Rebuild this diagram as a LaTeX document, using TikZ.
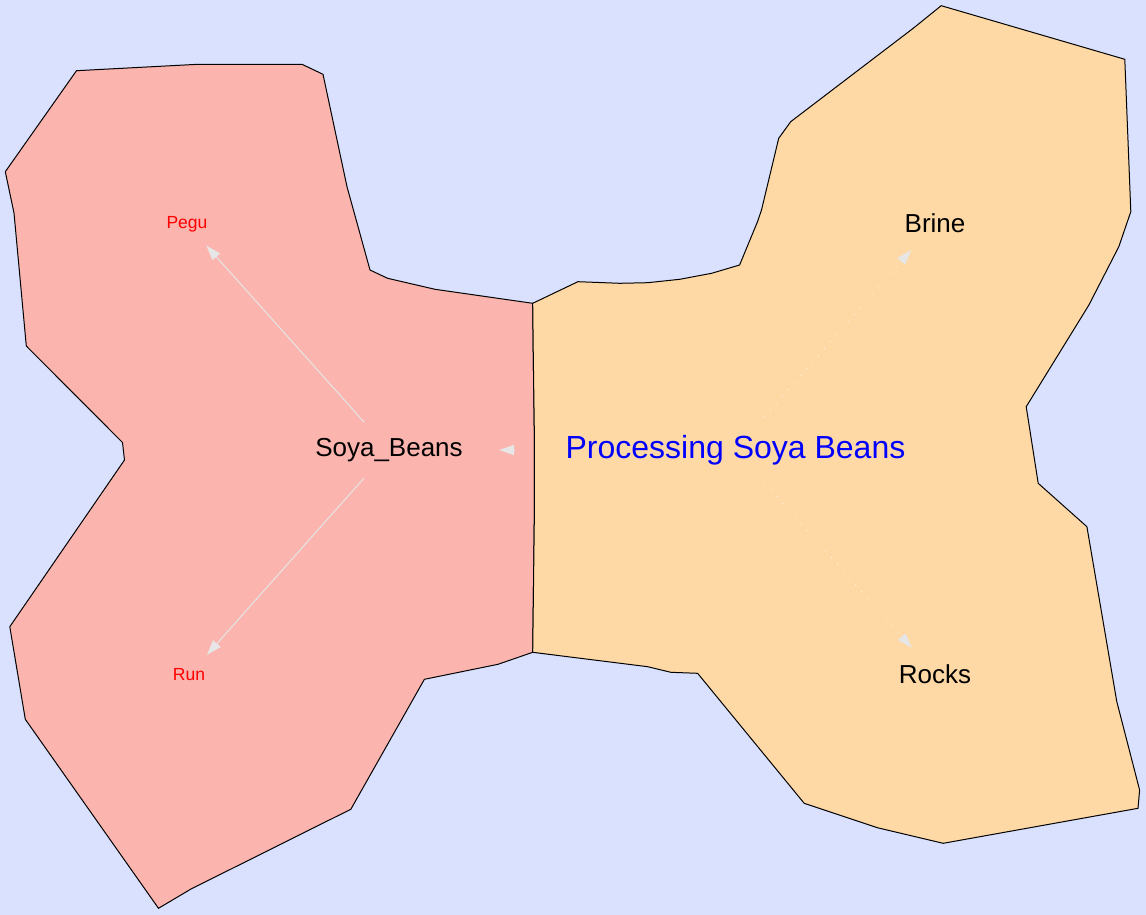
\documentclass[tikz,border=0pt]{standalone}
\usepackage{fontspec}
\setmainfont{Liberation Sans}
\usetikzlibrary{arrows.meta}
\definecolor{bgblue}{RGB}{218,225,255}
\definecolor{pinkfill}{RGB}{251,180,174}
\definecolor{orangefill}{RGB}{254,217,166}
\definecolor{arrowgray}{RGB}{230,230,230}
\definecolor{dotcolor}{RGB}{255,245,235}
\tikzset{
  region/.style={draw=black, line width=1pt, line join=miter},
  biglabel/.style={inner sep=0pt, font=\fontsize{26}{30}\selectfont, text=black},
  smalllabel/.style={inner sep=0pt, font=\fontsize{17.5}{20}\selectfont, text=red},
  titlelabel/.style={inner sep=0pt, font=\fontsize{32}{36}\selectfont, text=blue},
  solidarrow/.style={draw=arrowgray, line width=1pt, -{Triangle[length=15pt,width=10pt]}},
  dotline/.style={draw=dotcolor, line width=1.2pt, line cap=round, dash pattern=on 0.1pt off 9pt},
  tiponly/.style={draw=arrowgray, fill=arrowgray, line width=1pt, -{Triangle[length=15pt,width=10pt]}},
}
\begin{document}
\begin{tikzpicture}[x=1pt,y=-1pt]
\useasboundingbox (0,0) rectangle (1146,915);
\fill[bgblue] (0,0) rectangle (1146,915);
% pink region
\filldraw[region, fill=pinkfill]
  (76.5,70.7) -- (198,64.3) -- (302,64.3) -- (323,74.3) -- (347,186.7) -- (370,270)
  -- (387.6,278.3) -- (435,289.3) -- (532.7,303.3) -- (533.3,356.7) -- (534.3,430)
  -- (534.3,520) -- (532.7,652.3) -- (498,664.3) -- (424.4,679.3) -- (350.8,809.3)
  -- (191,889) -- (158.5,908.3) -- (25.3,719.3) -- (9.8,626.7) -- (124.5,460)
  -- (122.5,442.5) -- (26.3,346) -- (14,213) -- (5.3,171.7) -- cycle;
% orange region
\filldraw[region, fill=orangefill]
  (532.7,303.3) -- (577.9,281.7) -- (619.8,283.3) -- (647.7,282.7) -- (679.7,279.3)
  -- (711.6,273.3) -- (739.6,265) -- (757.5,221.7) -- (761.5,210) -- (778.7,138.3)
  -- (790.7,121.7) -- (913.2,28.3) -- (941.2,5.7) -- (1124.8,59.3) -- (1130.8,211.7)
  -- (1118.8,246.7) -- (1088.9,305) -- (1026.2,406.7) -- (1038.2,483.3) -- (1086.9,526.7)
  -- (1116.8,701.7) -- (1139.6,790) -- (1138,808.3) -- (943.2,843.3) -- (877.3,827.7)
  -- (804.2,803.3) -- (697.6,673.3) -- (670.9,672.3) -- (647.7,666.7) -- (532.7,652.3)
  -- (534.3,520) -- (534.3,430) -- (533.3,356.7) -- cycle;
% labels
\node[biglabel] (soya) at (389,450) {Soya\_Beans};
\node[titlelabel] (proc) at (735.5,450) {Processing Soya Beans};
\node[biglabel] (brine) at (935,223) {Brine};
\node[biglabel] (rocks) at (935,674) {Rocks};
\node[smalllabel] (pegu) at (187,224) {Pegu};
\node[smalllabel] (run) at (189,675) {Run};
% connectors
\draw[solidarrow, shorten <=37pt, shorten >=29pt] (soya.center) -- (pegu.center);
\draw[solidarrow, shorten <=38pt, shorten >=27pt] (soya.center) -- (run.center);
% dotted connectors: dotted shaft, then a solid tip
\draw[dotline, shorten <=44pt, shorten >=51pt] (proc.center) -- (brine.center);
\draw[tiponly, shorten <=251pt, shorten >=36pt] (proc.center) -- (brine.center);
\draw[dotline, shorten <=44pt, shorten >=50pt] (proc.center) -- (rocks.center);
\draw[tiponly, shorten <=250pt, shorten >=35pt] (proc.center) -- (rocks.center);
\draw[tiponly, shorten <=221.5pt, shorten >=110pt] (proc.center) -- (soya.center);
\end{tikzpicture}
\end{document}
